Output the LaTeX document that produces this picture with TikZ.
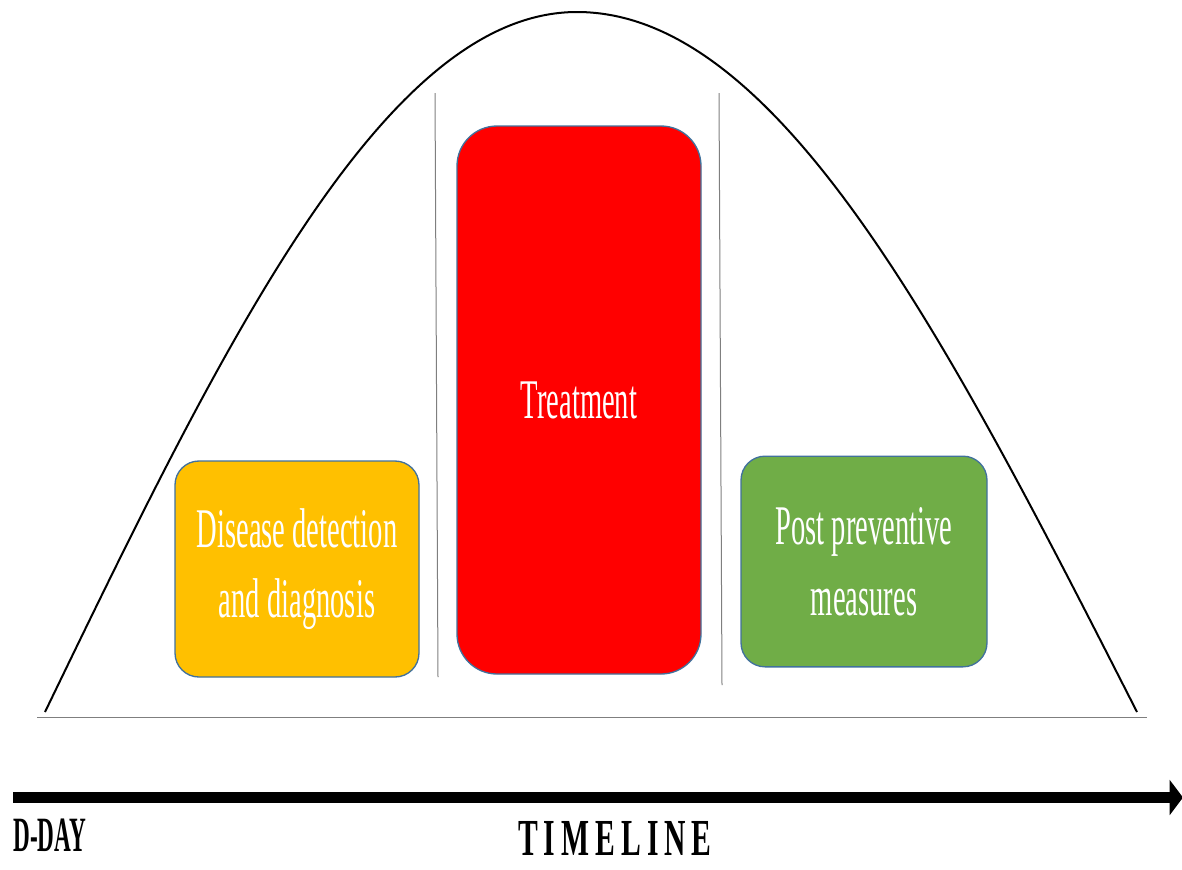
\documentclass[tikz,border=0pt]{standalone}
\usepackage{fontspec}
\setmainfont{Liberation Serif}
\newfontfamily\narrowfont[FakeStretch=0.51]{Liberation Serif}
\newfontfamily\ddayfont[FakeStretch=0.47]{Liberation Serif}
\newfontfamily\timefont[FakeStretch=0.57]{Liberation Serif}
\usetikzlibrary{arrows.meta}

\definecolor{boxborder}{HTML}{41719C}
\definecolor{detectyellow}{HTML}{FFC000}
\definecolor{treatred}{HTML}{FF0000}
\definecolor{postgreen}{HTML}{70AD47}
\definecolor{divgray}{HTML}{7F7F7F}

\tikzset{every picture/.style={line width=0.75pt}}
\tikzset{phasebox/.style={draw=boxborder, line width=1pt, text=white, align=center, inner sep=0pt, font=\narrowfont\fontsize{42}{53}\selectfont}}

\begin{document}
\begin{tikzpicture}[x=0.75pt,y=0.75pt,yscale=-1,xscale=1]
\path[use as bounding box] (0,0) rectangle (1182,869);

%Shape: Bell curve
\draw  [line width=1.5] (45,712) .. controls (222.8,344.4) and (384.4,12) .. (577,12) .. controls (779.7,12) and (949.8,344.4) .. (1137,712) ;
%Shape: Base line
\draw  [color=divgray] (37,717) -- (1147,717) ;
%Shape: Divider left
\draw  [color=divgray] (435,93) -- (438,677) ;
%Shape: Divider right
\draw  [color=divgray] (719,93) -- (722,685) ;

%Shape: Rounded Rectangle
\node (detect) [phasebox, fill=detectyellow, rounded corners=18pt, minimum width=183pt, minimum height=162pt] at (297,569) {Disease detection\\and diagnosis};
%Shape: Rounded Rectangle
\node (treat) [phasebox, fill=treatred, rounded corners=30pt, minimum width=183pt, minimum height=411pt] at (579,400) {Treatment};
%Shape: Rounded Rectangle
\node (post) [phasebox, fill=postgreen, rounded corners=18pt, minimum width=184.5pt, minimum height=158pt] at (864,561.5) {Post preventive\\measures};

%Shape: Timeline arrow
\coordinate (tstart) at (13,797.5);
\coordinate (tend) at (1183,797.5);
\draw  [line width=8.25pt, -{Triangle[length=10pt,width=26pt]}] (tstart) -- (tend) ;

% Text Node
\node (dday) [anchor=north west, inner sep=0pt, font=\ddayfont\bfseries\fontsize{37}{40}\selectfont] at (13,818) {D-DAY};
% Text Node
\node (timeline) [anchor=north, inner sep=0pt, font=\timefont\bfseries\fontsize{39}{42}\selectfont] at (615,821) {T\kern4.5pt I\kern4.5pt M\kern4.5pt E\kern4.5pt L\kern4.5pt I\kern4.5pt N\kern4.5pt E};
\end{tikzpicture}
\end{document}
